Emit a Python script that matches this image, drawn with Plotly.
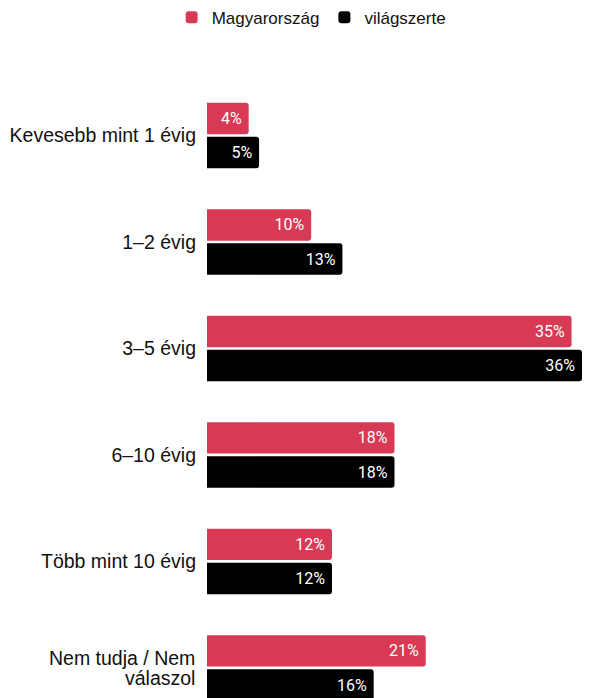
import plotly.graph_objects as go

# Adatok
kategoriak = [
    "Kevesebb mint 1 évig",
    "1–2 évig",
    "3–5 évig",
    "6–10 évig",
    "Több mint 10 évig",
    "Nem tudja / Nem válaszol",
]
# tengelyfelirat-szovegek (az utolsot ket sorban, kulon irjuk ki)
tick_szovegek = [
    "Kevesebb mint 1 évig",
    "1–2 évig",
    "3–5 évig",
    "6–10 évig",
    "Több mint 10 évig",
    "",
]
utolso_sorok = ["Nem tudja / Nem", "válaszol"]

magyarorszag = [4, 10, 35, 18, 12, 21]
vilagszerte = [5, 13, 36, 18, 12, 16]

PIROS = "#d83a55"
FEKETE = "#000000"
BETU = "Liberation Sans, Arial"

fig = go.Figure()

for nev, ertekek, szin in [
    ("Magyarország", magyarorszag, PIROS),
    ("világszerte", vilagszerte, FEKETE),
]:
    fig.add_trace(
        go.Bar(
            y=kategoriak,
            x=ertekek,
            name=nev,
            orientation="h",
            marker=dict(color=szin, cornerradius=3, line=dict(width=0)),
            text=[f"{v}%\u00a0" for v in ertekek],
            textposition="inside",
            insidetextanchor="end",
            textangle=0,
            insidetextfont=dict(family="Roboto", size=16, color="white"),
            hoverinfo="skip",
        )
    )

# ket soros felirat szorosabb sorkozzel
for i, sor in enumerate(utolso_sorok):
    fig.add_annotation(
        text=sor,
        xref="paper",
        yref="y",
        x=0,
        y=kategoriak[-1],
        xanchor="right",
        yanchor="middle",
        xshift=-10,
        yshift=9.5 - 19.5 * i,
        showarrow=False,
        font=dict(family=BETU, size=19.5, color="#111111"),
    )

# a body 8px-es margoja miatt a figura kicsit kisebb, jobb oldalon is hagyunk helyet
fig.update_layout(
    width=583,
    height=690,
    barmode="group",
    bargap=0.36,
    bargroupgap=0.08,
    plot_bgcolor="white",
    paper_bgcolor="white",
    margin=dict(l=199, r=9, t=75, b=0),
    legend=dict(
        orientation="h",
        xref="container",
        yref="container",
        x=0.52,
        y=0.986,
        xanchor="center",
        yanchor="middle",
        font=dict(family=BETU, size=17, color="#111111"),
    ),
    xaxis=dict(
        range=[0, 36],
        visible=False,
        showgrid=False,
        zeroline=False,
    ),
    yaxis=dict(
        range=[5.282, -0.493],
        tickmode="array",
        tickvals=kategoriak,
        ticktext=tick_szovegek,
        showgrid=False,
        zeroline=False,
        showline=False,
        ticks="",
        ticklabelstandoff=10,
        tickfont=dict(family=BETU, size=19.5, color="#111111"),
    ),
)

fig.write_html("out.html")
